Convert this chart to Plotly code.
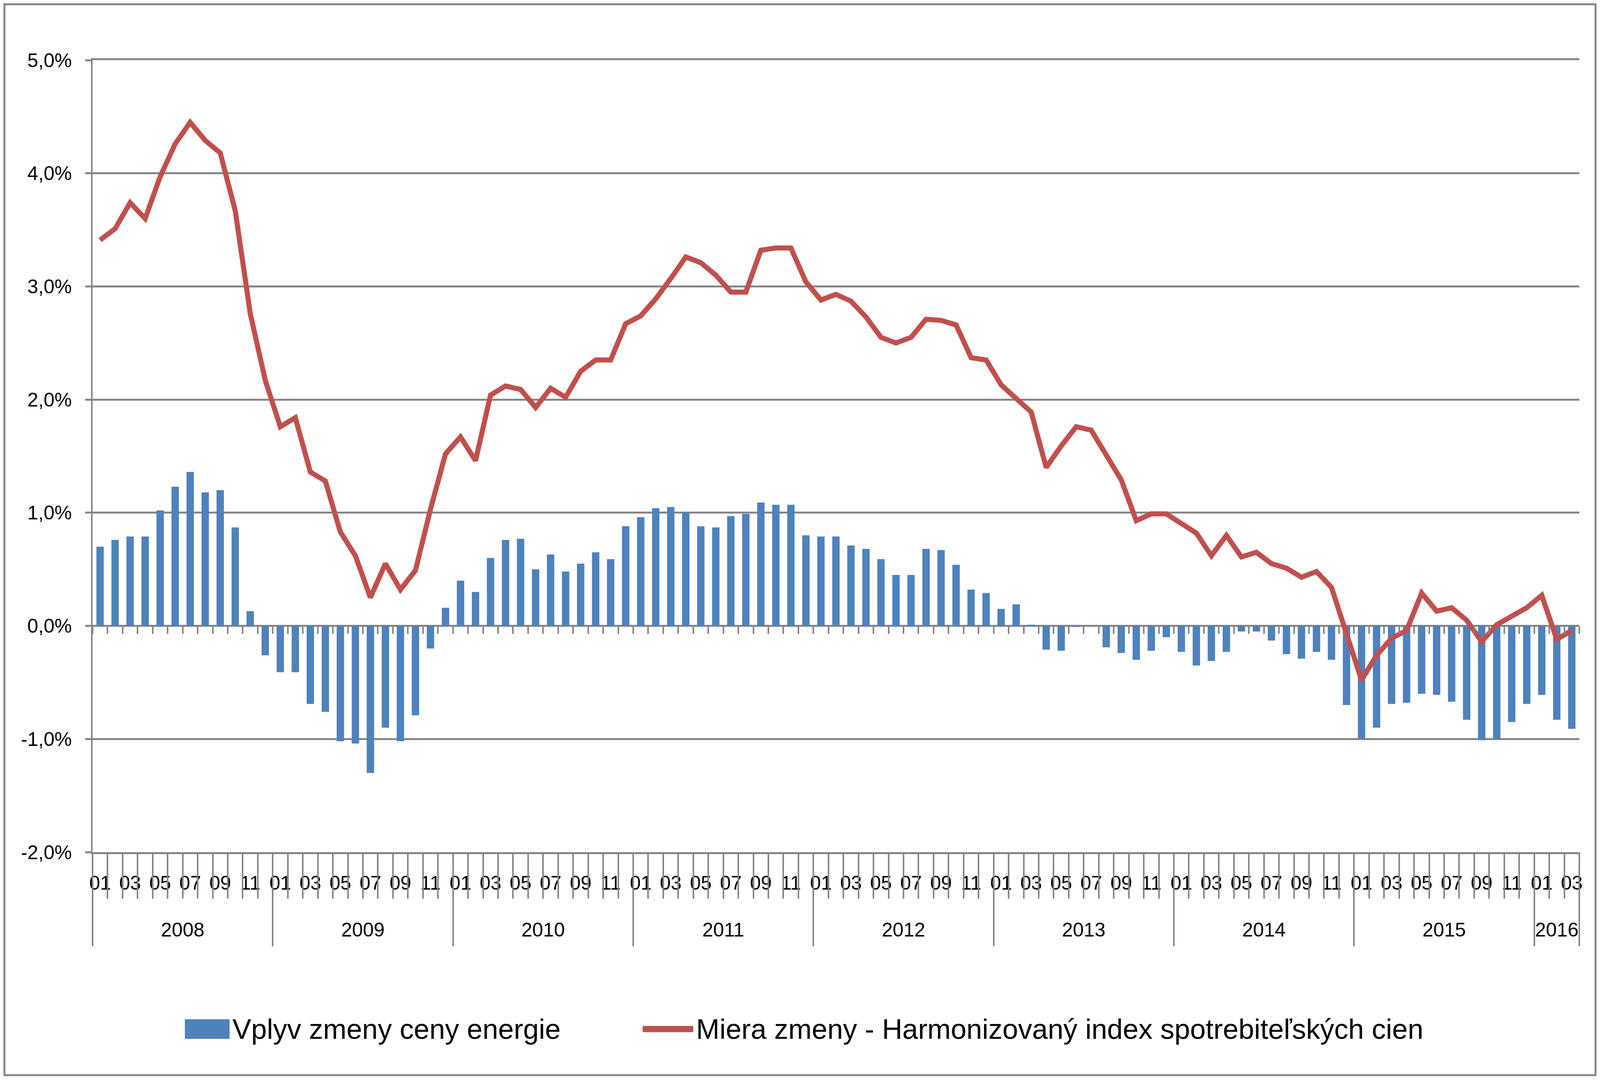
import plotly.graph_objects as go

# --- data (percent) ---
years = ["2008", "2009", "2010", "2011", "2012", "2013", "2014", "2015", "2016"]
months_in_year = [12, 12, 12, 12, 12, 12, 12, 12, 3]
month_labels = ["01", "02", "03", "04", "05", "06", "07", "08", "09", "10", "11", "12"]

energy_effect = [
    0.70, 0.76, 0.79, 0.79, 1.02, 1.23, 1.36, 1.18, 1.20, 0.87, 0.13, -0.26,
    -0.41, -0.41, -0.69, -0.76, -1.02, -1.04, -1.30, -0.90, -1.02, -0.79, -0.20, 0.16,
    0.40, 0.30, 0.60, 0.76, 0.77, 0.50, 0.63, 0.48, 0.55, 0.65, 0.59, 0.88,
    0.96, 1.04, 1.05, 1.00, 0.88, 0.87, 0.97, 0.99, 1.09, 1.07, 1.07, 0.80,
    0.79, 0.79, 0.71, 0.68, 0.59, 0.45, 0.45, 0.68, 0.67, 0.54, 0.32, 0.29,
    0.15, 0.19, 0.01, -0.21, -0.22, -0.01, 0.00, -0.19, -0.24, -0.30, -0.22, -0.10,
    -0.23, -0.35, -0.31, -0.23, -0.05, -0.05, -0.13, -0.25, -0.29, -0.23, -0.30, -0.70,
    -1.00, -0.90, -0.69, -0.68, -0.60, -0.61, -0.67, -0.83, -1.01, -1.00, -0.85, -0.69,
    -0.61, -0.83, -0.91,
]

hicp_rate = [
    3.41, 3.51, 3.74, 3.60, 3.97, 4.26, 4.45, 4.29, 4.18, 3.67, 2.76, 2.17,
    1.76, 1.84, 1.36, 1.28, 0.83, 0.62, 0.25, 0.55, 0.32, 0.49, 1.03, 1.52,
    1.67, 1.46, 2.04, 2.12, 2.09, 1.93, 2.10, 2.02, 2.25, 2.35, 2.35, 2.67,
    2.74, 2.89, 3.07, 3.26, 3.21, 3.10, 2.95, 2.95, 3.32, 3.34, 3.34, 3.04,
    2.88, 2.93, 2.87, 2.73, 2.55, 2.50, 2.55, 2.71, 2.70, 2.66, 2.37, 2.35,
    2.13, 2.01, 1.89, 1.40, 1.59, 1.76, 1.73, 1.51, 1.29, 0.93, 0.99, 0.99,
    0.90, 0.82, 0.62, 0.80, 0.61, 0.65, 0.55, 0.51, 0.43, 0.48, 0.34, -0.08,
    -0.48, -0.26, -0.11, -0.04, 0.29, 0.13, 0.16, 0.05, -0.14, 0.01, 0.08, 0.16,
    0.27, -0.12, -0.04,
]

y_ticks = [-2, -1, 0, 1, 2, 3, 4, 5]

bar_name = "Vplyv zmeny ceny energie"
line_name = "Miera zmeny - Harmonizovaný index spotrebiteľských cien"

# categories "YYYY-MM" and helpers for the two-level axis
cats, cat_month = [], []
year_start = []
for y, cnt in zip(years, months_in_year):
    year_start.append(len(cats))
    for m in month_labels[:cnt]:
        cats.append(f"{y}-{m}")
        cat_month.append(m)
n = len(cats)
year_edges = [s - 0.5 for s in year_start] + [n - 0.5]
year_centers = [(a + b) / 2 for a, b in zip(year_edges[:-1], year_edges[1:])]
month_edges = [i - 0.5 for i in range(n + 1)]
y_ticktext = [f"{v:.1f}".replace(".", ",") + "%" for v in y_ticks]

# --- geometry: reference pixels mapped onto the page (css px) ---
RX = 4096 / 5762   # page is narrower than the reference picture
RY = 1.0
BODY = 8           # default page margin

GRAY = "#868686"
BLUE = "#4F81BD"
RED = "#C0504D"
FONT = "Liberation Sans, Arial, sans-serif"
TICK_SIZE = 50
LEGEND_SIZE = 72

W = 4096 - 2 * BODY
H = 2764 - 2 * BODY
ML = 333 * RX - BODY
MT = 154 * RY - BODY
PW = 5688 * RX - BODY - ML
PH = 2182 * RY - BODY - MT
MR = W - ML - PW
MB = H - MT - PH
Y_MIN, Y_MAX = -2, 5
TICKFONT = dict(size=TICK_SIZE, family=FONT, color="black")


def px(xp):
    # page x (css) -> paper
    return (xp - BODY - ML) / PW


def py(yp):
    # page y (css) -> paper
    return (MT + PH - (yp - BODY)) / PH


fig = go.Figure()
fig.add_trace(go.Bar(x=cats, y=energy_effect, name=bar_name, marker=dict(color=BLUE, line=dict(width=0))))
fig.add_trace(go.Scatter(x=cats, y=hicp_rate, name=line_name, mode="lines",
                         line=dict(color=RED, width=13)))

# empty helper traces so that the tick-only axes get drawn
for ax in ["x2", "x3", "x4", "x5"]:
    fig.add_trace(go.Scatter(x=[-0.5, n - 0.5], y=[None, None], xaxis=ax, yaxis="y",
                             mode="lines", showlegend=False, hoverinfo="skip"))

tick_axis = dict(overlaying="x", type="linear", range=[-0.5, n - 0.5], showgrid=False,
                 zeroline=False, showticklabels=False, ticks="outside", tickcolor=GRAY,
                 tickwidth=4, tickmode="array", showline=False)

fig.update_layout(
    width=W,
    height=H,
    margin=dict(l=ML, r=MR, t=MT, b=MB, pad=0),
    paper_bgcolor="white",
    plot_bgcolor="white",
    showlegend=False,
    bargap=0.51,
    font=dict(family=FONT, color="black", size=TICK_SIZE),
    xaxis=dict(
        type="category", categoryorder="array", categoryarray=cats, range=[-0.5, n - 0.5],
        tickmode="array", tickvals=cats[::2], ticktext=cat_month[::2], ticks="",
        showgrid=False, zeroline=False, showline=True, mirror=True,
        linecolor=GRAY, linewidth=5,
        tickfont=TICKFONT, ticklabelstandoff=31,
    ),
    xaxis2=dict(tick_axis, anchor="y", tickvals=month_edges, ticklen=118 * RY),
    xaxis3=dict(tick_axis, anchor="y", tickvals=year_edges, ticklen=240 * RY),
    xaxis4=dict(tick_axis, anchor="y", tickvals=year_centers, ticktext=years, ticks="",
                showticklabels=True, tickfont=TICKFONT, ticklabelstandoff=165),
    xaxis5=dict(tick_axis, anchor="free", position=(0 - Y_MIN) / (Y_MAX - Y_MIN),
                tickvals=month_edges, ticklen=19 * RY),
    yaxis=dict(
        range=[Y_MIN, Y_MAX], tickmode="array", tickvals=y_ticks, ticktext=y_ticktext,
        showgrid=True, gridcolor=GRAY, gridwidth=5,
        zeroline=False, showline=True, linecolor=GRAY, linewidth=4,
        ticks="outside", ticklen=21 * RX, tickwidth=5, tickcolor=GRAY,
        tickfont=TICKFONT, ticklabelstandoff=24,
    ),
)

# custom legend, Excel style, centred like the reference (centre at ref x 2894)
EM1, EM2 = 11.68, 25.85            # measured text widths in em
sw_w, line_w = 161 * RX, 182 * RX
gap_txt, gap_items = 8 * RX, 297 * RX
total = sw_w + gap_txt + EM1 * LEGEND_SIZE + gap_items + line_w + gap_txt + EM2 * LEGEND_SIZE
x0 = 2894 * RX - total / 2
leg_y = 2635 * RY
t1_x = x0 + sw_w + gap_txt
ln_x = t1_x + EM1 * LEGEND_SIZE + gap_items
t2_x = ln_x + line_w + gap_txt

shapes = [
    dict(type="rect", xref="paper", yref="paper", x0=px(x0), x1=px(x0 + sw_w),
         y0=py(leg_y - 25 * RY), y1=py(leg_y + 25 * RY), fillcolor=BLUE, line=dict(width=0)),
    dict(type="line", xref="paper", yref="paper", x0=px(ln_x), x1=px(ln_x + line_w),
         y0=py(leg_y), y1=py(leg_y), line=dict(color=RED, width=16)),
    # outer chart frame
    dict(type="rect", xref="paper", yref="paper", x0=px(BODY + 3), x1=px(BODY + W - 3),
         y0=py(BODY + H - 3), y1=py(BODY + 3),
         line=dict(color=GRAY, width=5), fillcolor="rgba(0,0,0,0)", layer="below"),
]
annotations = [
    dict(xref="paper", yref="paper", x=px(t1_x), y=py(leg_y), text=bar_name, showarrow=False,
         xanchor="left", yanchor="middle", font=dict(size=LEGEND_SIZE, family=FONT, color="black")),
    dict(xref="paper", yref="paper", x=px(t2_x), y=py(leg_y), text=line_name, showarrow=False,
         xanchor="left", yanchor="middle", font=dict(size=LEGEND_SIZE, family=FONT, color="black")),
]
fig.update_layout(shapes=shapes, annotations=annotations)

fig.write_html("out.html")
